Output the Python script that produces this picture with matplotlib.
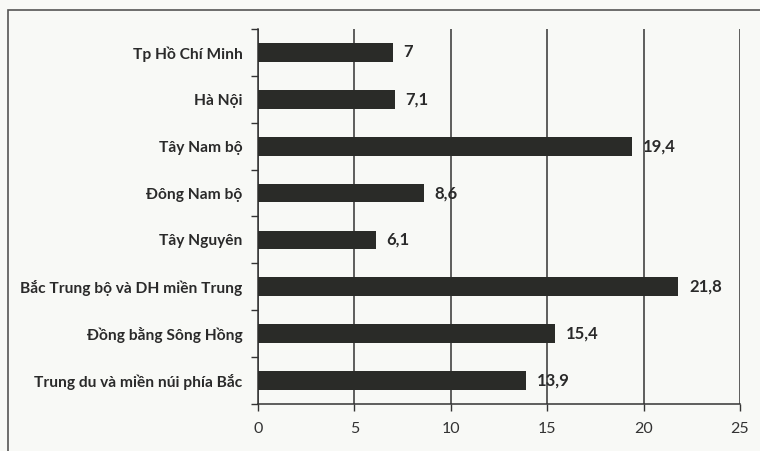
import matplotlib.pyplot as plt
from matplotlib.patches import Rectangle
from matplotlib.ticker import FixedLocator

# data (top to bottom as in the picture)
regions = [
    "Tp Hồ Chí Minh",
    "Hà Nội",
    "Tây Nam bộ",
    "Đông Nam bộ",
    "Tây Nguyên",
    "Bắc Trung bộ và DH miền Trung",
    "Đồng bằng Sông Hồng",
    "Trung du và miền núi phía Bắc",
]
values = [7, 7.1, 19.4, 8.6, 6.1, 21.8, 15.4, 13.9]
value_labels = ["7", "7,1", "19,4", "8,6", "6,1", "21,8", "15,4", "13,9"]
x_ticks = [0, 5, 10, 15, 20, 25]

plt.rcParams["font.family"] = ["Lato", "DejaVu Sans"]

fig = plt.figure(figsize=(7.6, 4.51), dpi=100)
fig.patch.set_facecolor("#f8f9f6")

# outer frame of the chart area
fig.patches.append(Rectangle((8 / 760, -0.01), 1.0, 1 - 10 / 451 + 0.01,
                             transform=fig.transFigure, fill=False,
                             edgecolor="#555555", linewidth=1.2))

ax = fig.add_axes([258 / 760, 1 - 404 / 451, (740 - 258) / 760, (404 - 29) / 451])
ax.set_facecolor("#f8f9f6")

ypos = list(range(len(regions)))[::-1]
ax.barh(ypos, values, height=0.4, color="#2a2b28", zorder=3)

for y, v, lab in zip(ypos, values, value_labels):
    ax.text(v + 0.55, y, lab, va="center", ha="left", fontsize=12,
            fontweight="bold", color="#2a2a2a")

ax.set_xlim(0, 25)
ax.set_ylim(-0.5, len(regions) - 0.5)
ax.set_xticks(x_ticks)
ax.set_xticklabels([str(t) for t in x_ticks], fontsize=11.5, color="#333333")
ax.set_yticks(ypos)
ax.set_yticklabels(regions, fontsize=11.2, fontweight="bold", color="#2a2a2a")
ax.yaxis.set_minor_locator(FixedLocator([i - 0.5 for i in range(len(regions) + 1)]))
ax.tick_params(axis="y", which="major", length=0, pad=11)
ax.tick_params(axis="y", which="minor", length=5, width=1, color="#333333")
ax.tick_params(axis="x", length=5, width=1, color="#333333", pad=8)

ax.grid(axis="x", color="#333333", linewidth=1.1, zorder=1)
for s in ["top", "right"]:
    ax.spines[s].set_visible(False)
for s in ["left", "bottom"]:
    ax.spines[s].set_color("#333333")
    ax.spines[s].set_linewidth(1.1)

fig.savefig("out.png", dpi=100, facecolor=fig.get_facecolor())
